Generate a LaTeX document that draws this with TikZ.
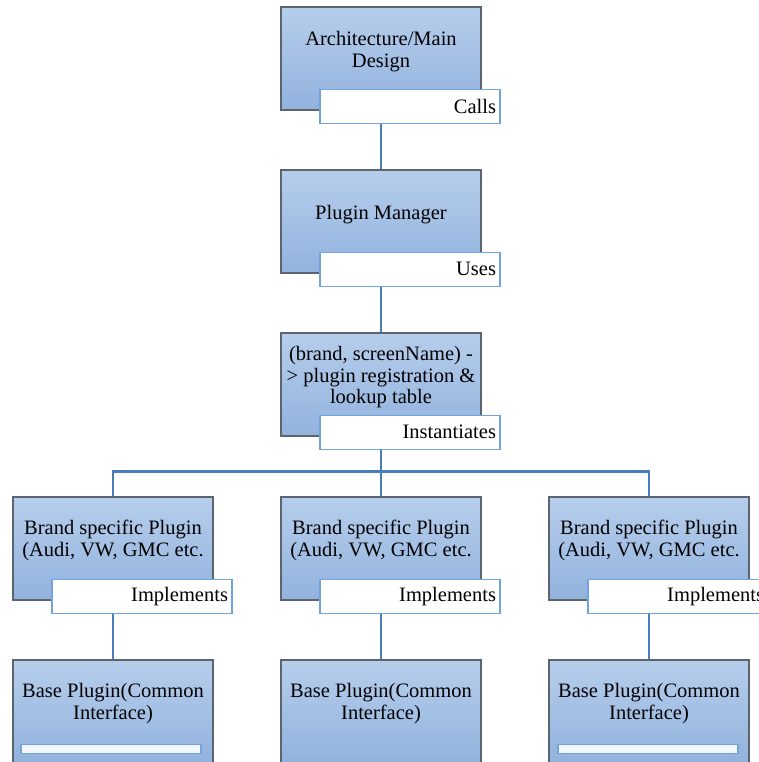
\documentclass[tikz,border=0pt]{standalone}
\usepackage{fontspec}
\setmainfont{Liberation Serif}
\newfontfamily\boxfont{Liberation Serif}
\usepackage{tikz}
\usetikzlibrary{positioning}
\definecolor{boxtop}{RGB}{182,206,236}
\definecolor{boxbottom}{RGB}{146,178,221}
\definecolor{boxedge}{RGB}{92,100,112}
\definecolor{tagedge}{RGB}{112,164,220}
\definecolor{linkblue}{RGB}{74,126,187}
\definecolor{barfill}{RGB}{243,247,252}
\tikzset{
	mainbox/.style={draw=boxedge,line width=1.3pt,top color=boxtop,bottom color=boxbottom,
		minimum width=200pt,minimum height=103pt,inner sep=0pt},
	boxtext/.style={align=center,font=\boxfont\fontsize{20.5}{21.5}\selectfont,inner sep=0pt},
	tagbox/.style={draw=tagedge,line width=1.3pt,fill=white,minimum height=34pt,
		text width=172pt,align=right,inner xsep=4pt,inner ysep=0pt,
		font=\boxfont\fontsize{20.5}{21.5}\selectfont},
	barbox/.style={draw=tagedge,line width=1.2pt,fill=barfill,minimum width=180pt,
		minimum height=9pt,inner sep=0pt},
	link/.style={draw=linkblue,line width=2.6pt}
}
\begin{document}
\begin{tikzpicture}[x=1pt,y=-1pt]
	\useasboundingbox (0,0) rectangle (759,762);
	\clip (0,0) rectangle (759,762);
	% boxes
	\node[mainbox] (arch) at (381,58.5) {};
	\node[mainbox] (manager) at (381,221.5) {};
	\node[mainbox] (lookup) at (381,384.5) {};
	\node[mainbox] (brand1) at (113,548.5) {};
	\node[mainbox] (brand2) at (381,548.5) {};
	\node[mainbox] (brand3) at (649,548.5) {};
	\node[mainbox] (base1) at (113,711.5) {};
	\node[mainbox] (base2) at (381,711.5) {};
	\node[mainbox] (base3) at (649,711.5) {};
	% texts
	\node[boxtext] (archtext) at ([yshift=-45.5pt]arch.north) {Architecture/Main\\Design};
	\node[boxtext] (managertext) at ([yshift=-45pt]manager.north) {Plugin Manager};
	\node[boxtext] (lookuptext) at ([yshift=-45pt]lookup.north) {(brand, screenName) -\\> plugin registration \&\\lookup table};
	\node[boxtext] (brandtext1) at ([yshift=-44pt]brand1.north) {Brand specific Plugin\\(Audi, VW, GMC etc.};
	\node[boxtext] (brandtext2) at ([yshift=-44pt]brand2.north) {Brand specific Plugin\\(Audi, VW, GMC etc.};
	\node[boxtext] (brandtext3) at ([yshift=-44pt]brand3.north) {Brand specific Plugin\\(Audi, VW, GMC etc.};
	\node[boxtext] (basetext1) at ([yshift=-44pt]base1.north) {Base Plugin(Common\\Interface)};
	\node[boxtext] (basetext2) at ([yshift=-44pt]base2.north) {Base Plugin(Common\\Interface)};
	\node[boxtext] (basetext3) at ([yshift=-44pt]base3.north) {Base Plugin(Common\\Interface)};
	% connectors
	\coordinate (bus) at (381,471.5);
	\draw[link] (arch.south) -- (manager.north);
	\draw[link] (manager.south) -- (lookup.north);
	\draw[link] (lookup.south) -- (bus);
	\draw[link] (brand1.north) |- (bus);
	\draw[link] (brand2.north) -- (bus);
	\draw[link] (brand3.north) |- (bus);
	\draw[link] (brand1.south) -- (base1.north);
	\draw[link] (brand2.south) -- (base2.north);
	\draw[link] (brand3.south) -- (base3.north);
	% tags
	\node[tagbox,anchor=north west] (calls) at ([xshift=39pt,yshift=22pt]arch.south west) {Calls};
	\node[tagbox,anchor=north west] (uses) at ([xshift=39pt,yshift=22pt]manager.south west) {Uses};
	\node[tagbox,anchor=north west] (instantiates) at ([xshift=39pt,yshift=22pt]lookup.south west) {Instantiates};
	\node[tagbox,anchor=north west] (implements1) at ([xshift=39pt,yshift=22pt]brand1.south west) {Implements};
	\node[tagbox,anchor=north west] (implements2) at ([xshift=39pt,yshift=22pt]brand2.south west) {Implements};
	\node[tagbox,anchor=north west] (implements3) at ([xshift=39pt,yshift=22pt]brand3.south west) {Implements};
	\node[barbox] (bar1) at ([xshift=-2pt,yshift=-89.5pt]base1.north) {};
	\node[barbox] (bar3) at ([xshift=-1pt,yshift=-89.5pt]base3.north) {};
\end{tikzpicture}
\end{document}
